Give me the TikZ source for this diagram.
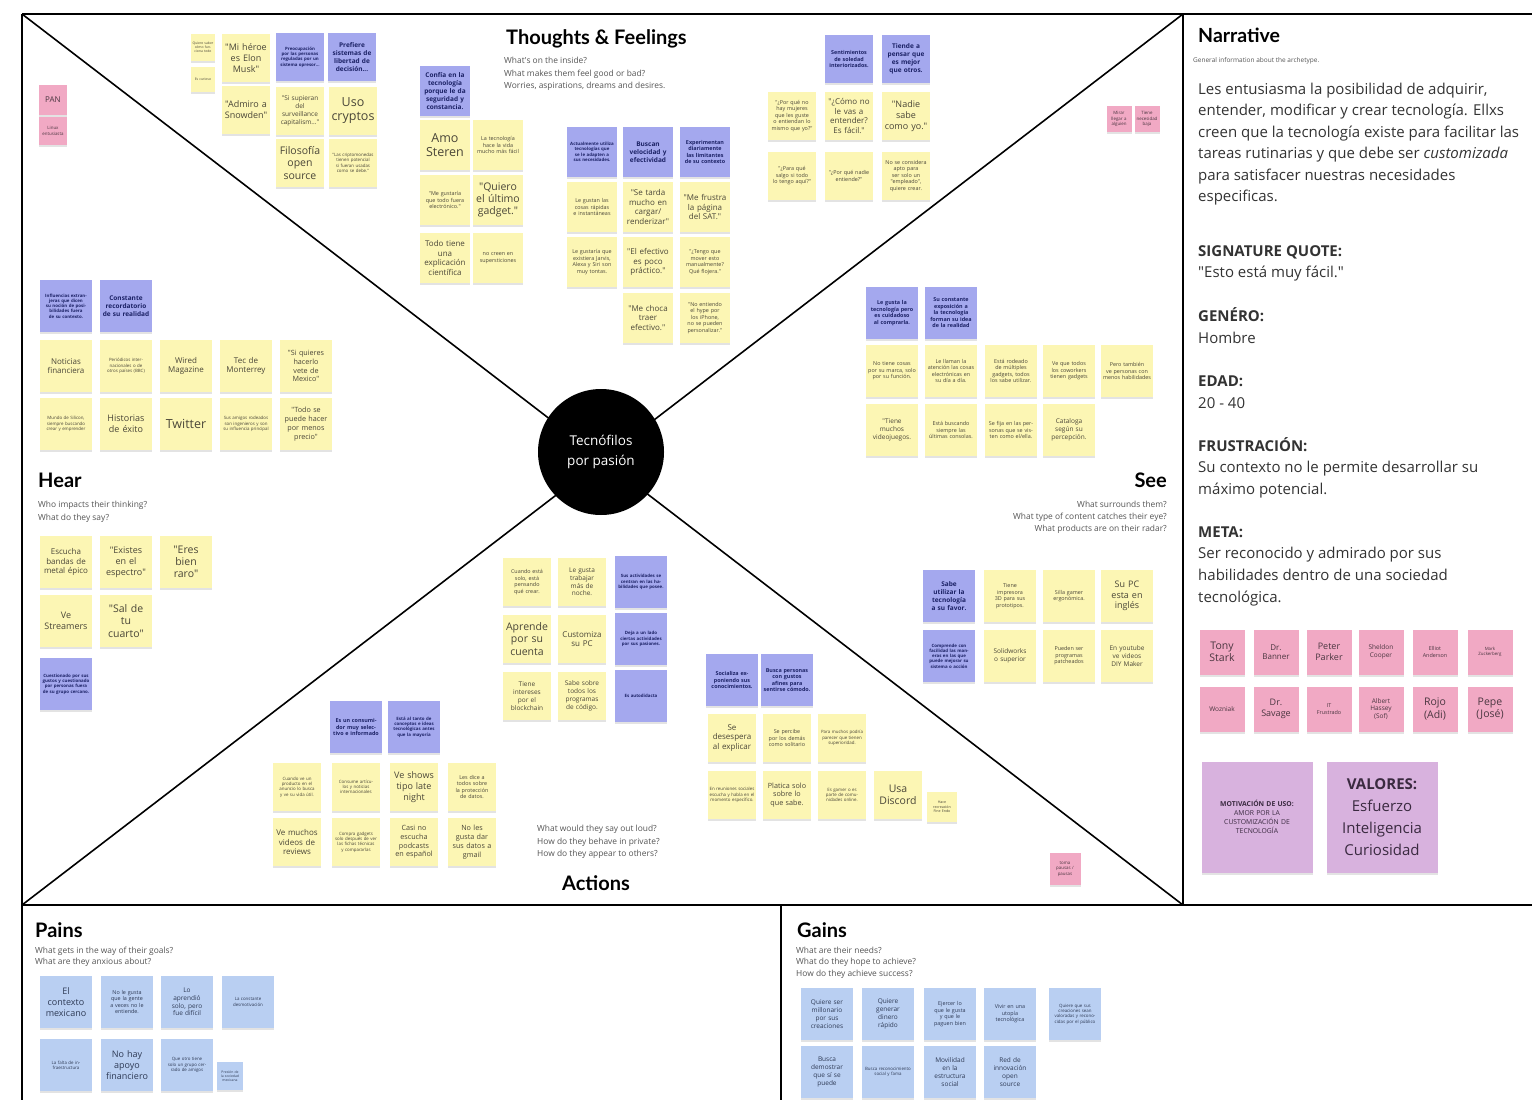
\documentclass[tikz,border=0pt]{standalone}
\usepackage{fontspec}
\setmainfont{Open Sans}[Ligatures=TeXOff]
\newfontfamily\titlefont{Lato}
\usetikzlibrary{shadows}
\definecolor{cYel}{HTML}{FCF6B4}
\definecolor{cYelT}{HTML}{4A4638}
\definecolor{cVio}{HTML}{A4A8EE}
\definecolor{cNavy}{HTML}{1C2266}
\definecolor{cPnk}{HTML}{F1A9C4}
\definecolor{cPnkT}{HTML}{4A3640}
\definecolor{cPur}{HTML}{D8B2DE}
\definecolor{cPurT}{HTML}{3A2A40}
\definecolor{cLbl}{HTML}{B9CFF2}
\definecolor{cLblT}{HTML}{2E3A55}
\definecolor{cSub}{HTML}{555555}
\begin{document}
\begin{tikzpicture}[x=1pt,y=-1pt,
  note/.style={rectangle, inner sep=1pt, align=center, text width=45pt,
    minimum width=50pt, minimum height=50pt,
    drop shadow={shadow xshift=0pt, shadow yshift=-2pt, opacity=0.22}},
  yel/.style={note, fill=cYel, text=cYelT},
  vio/.style={note, fill=cVio, text=cNavy, execute at begin node=\bfseries},
  pnk/.style={note, fill=cPnk, text=cPnkT},
  lbl/.style={note, fill=cLbl, text=cLblT},
  pur/.style={note, fill=cPur, text=cPurT, minimum width=111pt, minimum height=111pt, text width=104pt},
  sA/.style={minimum width=48pt, minimum height=48pt, text width=45pt},
  sB/.style={minimum width=52pt, minimum height=52pt, text width=48pt},
  sP/.style={minimum width=45pt, minimum height=45pt, text width=42pt},
  fa/.style={font=\fontsize{12.5}{14}\selectfont},
  fb/.style={font=\fontsize{10.5}{12.2}\selectfont},
  fc/.style={font=\fontsize{9}{10.8}\selectfont},
  fd/.style={font=\fontsize{8}{9.6}\selectfont},
  fdd/.style={font=\fontsize{7.2}{8.8}\selectfont},
  fe/.style={font=\fontsize{6.5}{7.8}\selectfont},
  ff/.style={font=\fontsize{5.4}{6.5}\selectfont},
  fg/.style={font=\fontsize{4.4}{5.3}\selectfont},
  ttl/.style={inner sep=0pt, font=\titlefont\bfseries\fontsize{20}{22}\selectfont},
  sub/.style={inner sep=0pt, text=cSub, font=\fontsize{8.4}{9}\selectfont},
  nar/.style={inner sep=0pt, anchor=base west, text=black!80, font=\fontsize{15}{17}\selectfont},
  frame/.style={line width=1.6pt, black}]
\useasboundingbox (0,0) rectangle (1532,1100);
\fill[white] (0,0) rectangle (1532,1100);
% frame
\coordinate (TL) at (22,14);
\coordinate (TR) at (1183,14);
\coordinate (BL) at (22,905);
\coordinate (BR) at (1183,905);
\coordinate (FR) at (1532,14);
\coordinate (FRb) at (1532,905);
\coordinate (BB) at (22,1100);
\coordinate (MB) at (781,905);
\coordinate (MBb) at (781,1100);
\draw[frame] (TL) -- (FR);
\draw[frame] (TL) -- (BB);
\draw[frame] (BL) -- (FRb);
\draw[frame] (TR) -- (BR);
\draw[frame] (MB) -- (MBb);
\draw[frame] (TL) -- (BR);
\draw[frame] (TR) -- (BL);
\node[circle, fill=black, minimum size=126pt, inner sep=0pt, text=white, align=center, font=\fontsize{13.5}{20}\selectfont] (core) at (601,452) {Tecnófilos\\por pasión};

% titles
\node[ttl, anchor=base west] (tfT) at (506,44) {Thoughts \& Feelings};
\node[sub, anchor=base west] (tfS1) at (504,63) {What's on the inside?};
\node[sub, anchor=base west] (tfS2) at (504,76) {What makes them feel good or bad?};
\node[sub, anchor=base west] (tfS3) at (504,88.5) {Worries, aspirations, dreams and desires.};
\node[ttl, anchor=base west] (hrT) at (38,487) {Hear};
\node[sub, anchor=base west] (hrS1) at (38,507) {Who impacts their thinking?};
\node[sub, anchor=base west] (hrS2) at (38,520) {What do they say?};
\node[ttl, anchor=base east] (seT) at (1167,487) {See};
\node[sub, anchor=base east] (seS1) at (1167,507) {What surrounds them?};
\node[sub, anchor=base east] (seS2) at (1167,519) {What type of content catches their eye?};
\node[sub, anchor=base east] (seS3) at (1167,531) {What products are on their radar?};
\node[ttl, anchor=base] (acT) at (596,890) {Actions};
\node[sub, anchor=base west] (acS1) at (537,831) {What would they say out loud?};
\node[sub, anchor=base west] (acS2) at (537,844) {How do they behave in private?};
\node[sub, anchor=base west] (acS3) at (537,856) {How do they appear to others?};
\node[ttl, anchor=base west] (paT) at (35,937) {Pains};
\node[sub, anchor=base west] (paS1) at (35,953) {What gets in the way of their goals?};
\node[sub, anchor=base west] (paS2) at (35,964) {What are they anxious about?};
\node[ttl, anchor=base west] (gaT) at (797,937) {Gains};
\node[sub, anchor=base west] (gaS1) at (796,953) {What are their needs?};
\node[sub, anchor=base west] (gaS2) at (796,964.5) {What do they hope to achieve?};
\node[sub, anchor=base west] (gaS3) at (796,976) {How do they achieve success?};

% top-left
\node[pnk, minimum width=28pt, minimum height=30pt, text width=26pt, fd] (pan) at (53,100) {PAN};
\node[pnk, minimum width=28pt, minimum height=28pt, text width=26pt, fg] (pan2) at (53,131) {Linux\\entusiasta};
\node[yel, minimum width=24pt, minimum height=27pt, text width=22pt, font=\fontsize{3.4}{4.2}\selectfont] (t0a) at (203,47) {Quiere saber cómo funciona todo};
\node[yel, minimum width=24pt, minimum height=25pt, text width=22pt, font=\fontsize{3.4}{4.2}\selectfont] (t0b) at (203,79) {Es curioso};
\node[yel, sA, fc] (t1) at (246,58) {"Mi héroe\\es Elon\\Musk"};
\node[yel, sA, fc] (t2) at (246,110) {"Admiro a\\Snowden"};
\node[vio, sA, fg] (t3) at (300,57) {Preocupación por las personas reguladas por un sistema opresor...};
\node[vio, sA, fe] (t4) at (352,57) {Prefiere sistemas de libertad de decisión...};
\node[yel, sA, fe] (t5) at (300,111) {"Si supieran\\del\\surveillance\\capitalism..."};
\node[yel, sA, fa] (t6) at (353,111) {Uso\\cryptos};
\node[yel, sA, fb] (t7) at (300,163) {Filosofía\\open\\source};
\node[yel, sA, fg] (t8) at (353,163) {"Las criptomonedas tienen potencial si fueran usadas como se debe."};

% thoughts centre-left
\node[vio, fe] (c1) at (445,91) {Confía en la tecnología porque le da seguridad y constancia.};
\node[yel, fa] (c2) at (445,145) {Amo\\Steren};
\node[yel, ff] (c3) at (498,145) {La tecnología hace la vida mucho más fácil};
\node[yel, ff] (c4) at (445,200) {"Me gustaría que todo fuera electrónico."};
\node[yel, fb] (c5) at (498,200) {"Quiero\\el último\\gadget."};
\node[yel, fd] (c6) at (445,258) {Todo tiene\\una\\explicación\\científica};
\node[yel, ff] (c7) at (498,258) {no creen en supersticiones};
\node[vio, fg] (m1) at (592,152) {Actualmente utiliza tecnologías que se le adapten a sus necesidades.};
\node[vio, fe] (m2) at (648,152) {Buscan velocidad y efectividad};
\node[vio, ff] (m3) at (705,152) {Experimentan diariamente las limitantes de su contexto};
\node[yel, ff] (m4) at (592,207) {Le gustan las cosas rápidas e instantáneas};
\node[yel, fd] (m5) at (648,207) {"Se tarda\\mucho en\\cargar/\\renderizar"};
\node[yel, fd] (m6) at (705,207) {"Me frustra\\la página\\del SAT."};
\node[yel, ff] (m7) at (592,262) {Le gustaría que existiera Jarvis, Alexa y Siri son muy tontas.};
\node[yel, fd] (m8) at (648,262) {"El efectivo\\es poco\\práctico."};
\node[yel, ff] (m9) at (705,262) {"¿Tengo que mover esto manualmente? Qué flojera."};
\node[yel, fd] (m10) at (648,318) {"Me choca\\traer\\efectivo."};
\node[yel, ff] (m11) at (705,318) {"No entiendo el hype por los iPhone, no se pueden personalizar."};

% thoughts right
\node[vio, sA, ff] (r1) at (849,59) {Sentimientos de soledad interiorizados.};
\node[vio, sA, fe] (r2) at (906,59) {Tiende a pensar que es mejor que otros.};
\node[yel, sA, ff] (r3) at (792,116) {"¿Por qué no hay mujeres que les guste o entiendan lo mismo que yo?"};
\node[yel, sA, fd] (r4) at (849,116) {"¿Cómo no\\le vas a\\entender?\\Es fácil."};
\node[yel, sA, fc] (r5) at (906,116) {"Nadie\\sabe\\como yo."};
\node[yel, sA, ff] (r6) at (792,176) {"¿Para qué salgo si todo lo tengo aquí?"};
\node[yel, sA, ff] (r7) at (849,176) {"¿Por qué nadie entiende?"};
\node[yel, sA, ff] (r8) at (906,176) {No se considera apto para ser solo un "empleado", quiere crear.};
\node[pnk, minimum width=25pt, minimum height=26pt, text width=23pt, fg] (r9) at (1119,119) {Mirar\\llegar a\\alguien};
\node[pnk, minimum width=25pt, minimum height=26pt, text width=23pt, fg] (r10) at (1147,119) {Tiene\\necesidad\\baja};

% hear
\node[vio, sB, fg] (h1) at (66,306) {Influencias extranjeras que dicen su noción de posibilidades fuera de su contexto.};
\node[vio, sB, fe] (h2) at (126,306) {Constante recordatorio de su realidad};
\node[yel, sB, fd] (h3) at (66,366) {Noticias\\financiera};
\node[yel, sB, fg] (h4) at (126,366) {Periódicos internacionales o de otros países (BBC)};
\node[yel, sB, fd] (h5) at (186,366) {Wired\\Magazine};
\node[yel, sB, fd] (h6) at (246,366) {Tec de\\Monterrey};
\node[yel, sB, fdd] (h7) at (306,366) {"Si quieres\\hacerlo\\vete de\\Mexico"};
\node[yel, sB, fg] (h8) at (66,424) {Mundo de Silicon, siempre buscando crear y emprender};
\node[yel, sB, fc] (h9) at (126,424) {Historias\\de éxito};
\node[yel, sB, fa] (h10) at (186,424) {Twitter};
\node[yel, sB, fg] (h11) at (246,424) {Sus amigos rodeados son ingenieros y son su influencia principal};
\node[yel, sB, fdd] (h12) at (306,424) {"Todo se\\puede hacer\\por menos\\precio"};
\node[yel, sB, fd] (h13) at (66,562) {Escucha\\bandas de\\metal épico};
\node[yel, sB, fc] (h14) at (126,562) {"Existes\\en el\\espectro"};
\node[yel, sB, fb] (h15) at (186,562) {"Eres\\bien\\raro"};
\node[yel, sB, fc] (h16) at (66,621) {Ve\\Streamers};
\node[yel, sB, fb] (h17) at (126,621) {"Sal de\\tu\\cuarto"};
\node[vio, sB, fg] (h18) at (66,684) {Cuestionado por sus gustos y cuestionado por personas fuera de su grupo cercano.};

% see
\node[vio, sB, ff] (s1) at (892,313) {Le gusta la tecnología pero es cuidadoso al comprarla.};
\node[vio, sB, ff] (s2) at (951,313) {Su constante exposición a la tecnología forman su idea de la realidad};
\node[yel, sB, ff] (s3) at (892,371) {No tiene cosas por su marca, solo por su función.};
\node[yel, sB, ff] (s4) at (951,371) {Le llaman la atención las cosas electrónicas en su día a día.};
\node[yel, sB, ff] (s5) at (1011,371) {Está rodeado de múltiples gadgets, todos los sabe utilizar.};
\node[yel, sB, ff] (s6) at (1069,371) {Ve que todos los coworkers tienen gadgets};
\node[yel, sB, ff] (s7) at (1127,371) {Pero también ve personas con menos habilidades};
\node[yel, sB, fe] (s8) at (892,430) {"Tiene\\muchos\\videojuegos.};
\node[yel, sB, ff] (s9) at (951,430) {Está buscando siempre las últimas consolas.};
\node[yel, sB, ff] (s10) at (1011,430) {Se fija en las personas que se visten como el/ella.};
\node[yel, sB, fe] (s11) at (1069,430) {Cataloga\\según su\\percepción.};
\node[vio, sB, fe] (s12) at (949,596) {Sabe\\utilizar la\\tecnología\\a su favor.};
\node[yel, sB, ff] (s13) at (1010,596) {Tiene\\impresora\\3D para sus\\prototipos.};
\node[yel, sB, ff] (s14) at (1069,596) {Silla gamer\\ergonómica.};
\node[yel, sB, fc] (s15) at (1127,596) {Su PC\\esta en\\inglés};
\node[vio, sB, fg] (s16) at (949,656) {Comprende con facilidad las maneras en las que puede mejorar su sistema o acción};
\node[yel, sB, fe] (s17) at (1010,656) {Solidworks\\o superior};
\node[yel, sB, ff] (s18) at (1069,656) {Pueden ser\\programas\\patcheados};
\node[yel, sB, fe] (s19) at (1127,656) {En youtube\\ve videos\\DIY Maker};
\node[pnk, minimum width=31pt, minimum height=32pt, text width=28pt, fg] (s20) at (1065,869) {toma\\pausas /\\pausas};

% actions
\node[yel, sA, ff] (a1) at (527,582) {Cuando está solo, está pensando qué crear.};
\node[yel, sA, fe] (a2) at (582,582) {Le gusta\\trabajar\\más de\\noche.};
\node[vio, sB, fg] (a3) at (641,582) {Sus actividades se centran en las habilidades que posee.};
\node[yel, sA, fb] (a4) at (527,639) {Aprende\\por su\\cuenta};
\node[yel, sA, fd] (a5) at (582,639) {Customiza\\su PC};
\node[vio, sB, fg] (a6) at (641,639) {Deja a un lado ciertas actividades por sus pasiones.};
\node[yel, sA, fe] (a7) at (527,696) {Tiene\\intereses\\por el\\blockchain};
\node[yel, sA, fe] (a8) at (582,696) {Sabe sobre\\todos los\\programas\\de código.};
\node[vio, sB, fg] (a9) at (641,696) {Es autodidacta};
\node[vio, sB, ff] (a10) at (356,727) {Es un consumidor muy selectivo e informado};
\node[vio, sB, fg] (a11) at (414,727) {Está al tanto de conceptos e ideas tecnológicas antes que la mayoría};
\node[yel, sA, fg] (a12) at (297,787) {Cuando ve un producto en el anuncio lo busca y ve su vida útil.};
\node[yel, sA, fg] (a13) at (356,787) {Consume artículos y noticias internacionales};
\node[yel, sA, fc] (a14) at (414,787) {Ve shows\\tipo late\\night};
\node[yel, sA, ff] (a15) at (472,787) {Les dice a todos sobre la protección de datos.};
\node[yel, sA, fd] (a16) at (297,842) {Ve muchos\\videos de\\reviews};
\node[yel, sA, fg] (a17) at (356,842) {Compra gadgets solo después de ver las fichas técnicas y compararlas};
\node[yel, sA, fdd] (a18) at (414,842) {Casi no\\escucha\\podcasts\\en español};
\node[yel, sA, fdd] (a19) at (472,842) {No les\\gusta dar\\sus datos a\\gmail};
\node[vio, sB, ff] (a20) at (732,680) {Socializa exponiendo sus conocimientos.};
\node[vio, sB, ff] (a21) at (787,680) {Busca personas con gustos afines para sentirse cómodo.};
\node[yel, sA, fd] (a22) at (732,738) {Se\\desespera\\al explicar};
\node[yel, sA, ff] (a23) at (787,738) {Se percibe por los demás como solitario};
\node[yel, sA, fg] (a24) at (842,738) {Para muchos podría parecer que tienen superioridad.};
\node[yel, sA, fg] (a25) at (732,795) {En reuniones sociales escucha y habla en el momento específico.};
\node[yel, sA, fdd] (a26) at (787,795) {Platica solo\\sobre lo\\que sabe.};
\node[yel, sA, fg] (a27) at (842,795) {Es gamer o es parte de comunidades online.};
\node[yel, sA, fb] (a28) at (898,795) {Usa\\Discord};
\node[yel, minimum width=30pt, minimum height=30pt, text width=28pt, font=\fontsize{3.6}{4.4}\selectfont] (a29) at (942,807) {Hace\\recreación\\Fine Endo};

% narrative
\node[inner sep=0pt, anchor=base west, font=\titlefont\bfseries\fontsize{19.5}{21}\selectfont] (nT) at (1198,42) {Narrative};
\node[inner sep=0pt, anchor=base west, text=cSub, font=\fontsize{6.5}{7}\selectfont] (nS) at (1193,62.5) {General information about the archetype.};
\node[nar] (n1) at (1198,94) {Les entusiasma la posibilidad de adquirir,};
\node[nar] (n2) at (1198,115.5) {entender, modificar y crear tecnología. Ellxs};
\node[nar] (n3) at (1198,137) {creen que la tecnología existe para facilitar las};
\node[nar] (n4) at (1198,158.5) {tareas rutinarias y que debe ser \textit{customizada}};
\node[nar] (n5) at (1198,180) {para satisfacer nuestras necesidades};
\node[nar] (n6) at (1198,201.5) {especificas.};
\node[nar] (n7) at (1198,256) {\bfseries SIGNATURE QUOTE:};
\node[nar] (n8) at (1198,277) {"Esto está muy fácil."};
\node[nar] (n9) at (1198,321) {\bfseries GENÉRO:};
\node[nar] (n10) at (1198,343) {Hombre};
\node[nar] (n11) at (1198,386) {\bfseries EDAD:};
\node[nar] (n12) at (1198,408) {20 - 40};
\node[nar] (n13) at (1198,451) {\bfseries FRUSTRACIÓN:};
\node[nar] (n14) at (1198,472) {Su contexto no le permite desarrollar su};
\node[nar] (n15) at (1198,494) {máximo potencial.};
\node[nar] (n16) at (1198,537) {\bfseries META:};
\node[nar] (n17) at (1198,558) {Ser reconocido y admirado por sus};
\node[nar] (n18) at (1198,580) {habilidades dentro de una sociedad};
\node[nar] (n19) at (1198,602) {tecnológica.};

\node[pnk, sP, fb] (p1) at (1222,652) {Tony\\Stark};
\node[pnk, sP, fd] (p2) at (1276,652) {Dr.\\Banner};
\node[pnk, sP, fc] (p3) at (1329,652) {Peter\\Parker};
\node[pnk, sP, fe] (p4) at (1381,652) {Sheldon\\Cooper};
\node[pnk, sP, ff] (p5) at (1435,652) {Elliot\\Anderson};
\node[pnk, sP, fg] (p6) at (1490,652) {Mark\\Zuckerberg};
\node[pnk, sP, fe] (p7) at (1222,709) {Wozniak};
\node[pnk, sP, fc] (p8) at (1276,709) {Dr.\\Savage};
\node[pnk, sP, ff] (p9) at (1329,709) {IT\\Frustrado};
\node[pnk, sP, fe] (p10) at (1381,709) {Albert\\Hassey\\(Sof)};
\node[pnk, sP, fb] (p11) at (1435,709) {Rojo\\(Adi)};
\node[pnk, sP, fb] (p12) at (1490,709) {Pepe\\(José)};
\node[pur, font=\fontsize{6.8}{9}\selectfont] (mot) at (1257,817) {{\bfseries MOTIVACIÓN DE USO:}\\AMOR POR LA\\CUSTOMIZACIÓN DE\\TECNOLOGÍA};
\node[pur, font=\fontsize{15}{22}\selectfont] (val) at (1382,817) {{\bfseries VALORES:}\\Esfuerzo\\Inteligencia\\Curiosidad};

% pains
\node[lbl, sB, fc] (q1) at (66,1002) {El\\contexto\\mexicano};
\node[lbl, sB, ff] (q2) at (127,1002) {No le gusta\\que la gente\\a veces no le\\entiende.};
\node[lbl, sB, fe] (q3) at (187,1002) {Lo\\aprendió\\solo, pero\\fue difícil};
\node[lbl, sB, fg] (q4) at (248,1002) {La constante desmotivación};
\node[lbl, sB, fg] (q5) at (66,1065) {La falta de infraestructura};
\node[lbl, sB, fc] (q6) at (127,1065) {No hay\\apoyo\\financiero};
\node[lbl, sB, fg] (q7) at (187,1065) {Que otro tiene solo un grupo cerrado de amigos};
\node[lbl, minimum width=26pt, minimum height=28pt, text width=24pt, font=\fontsize{3.4}{4.2}\selectfont] (q8) at (230,1076) {Presión de la sociedad mexicana};

% gains
\node[lbl, sB, fe] (g1) at (827,1014) {Quiere ser\\millonario\\por sus\\creaciones};
\node[lbl, sB, fe] (g2) at (888,1014) {Quiere\\generar\\dinero\\rápido};
\node[lbl, sB, ff] (g3) at (950,1014) {Ejercer lo\\que le gusta\\y que le\\paguen bien};
\node[lbl, sB, ff] (g4) at (1010,1014) {Vivir en una\\utopía\\tecnológica};
\node[lbl, sB, fg] (g5) at (1075,1014) {Quiere que sus creaciones sean valoradas y reconocidas por el público};
\node[lbl, sB, fe] (g6) at (827,1072) {Busca\\demostrar\\que sí se\\puede};
\node[lbl, sB, fg] (g7) at (888,1072) {Busca reconocimiento social y fama};
\node[lbl, sB, fe] (g8) at (950,1072) {Movilidad\\en la\\estructura\\social};
\node[lbl, sB, fe] (g9) at (1010,1072) {Red de\\innovación\\open\\source};
\end{tikzpicture}
\end{document}
